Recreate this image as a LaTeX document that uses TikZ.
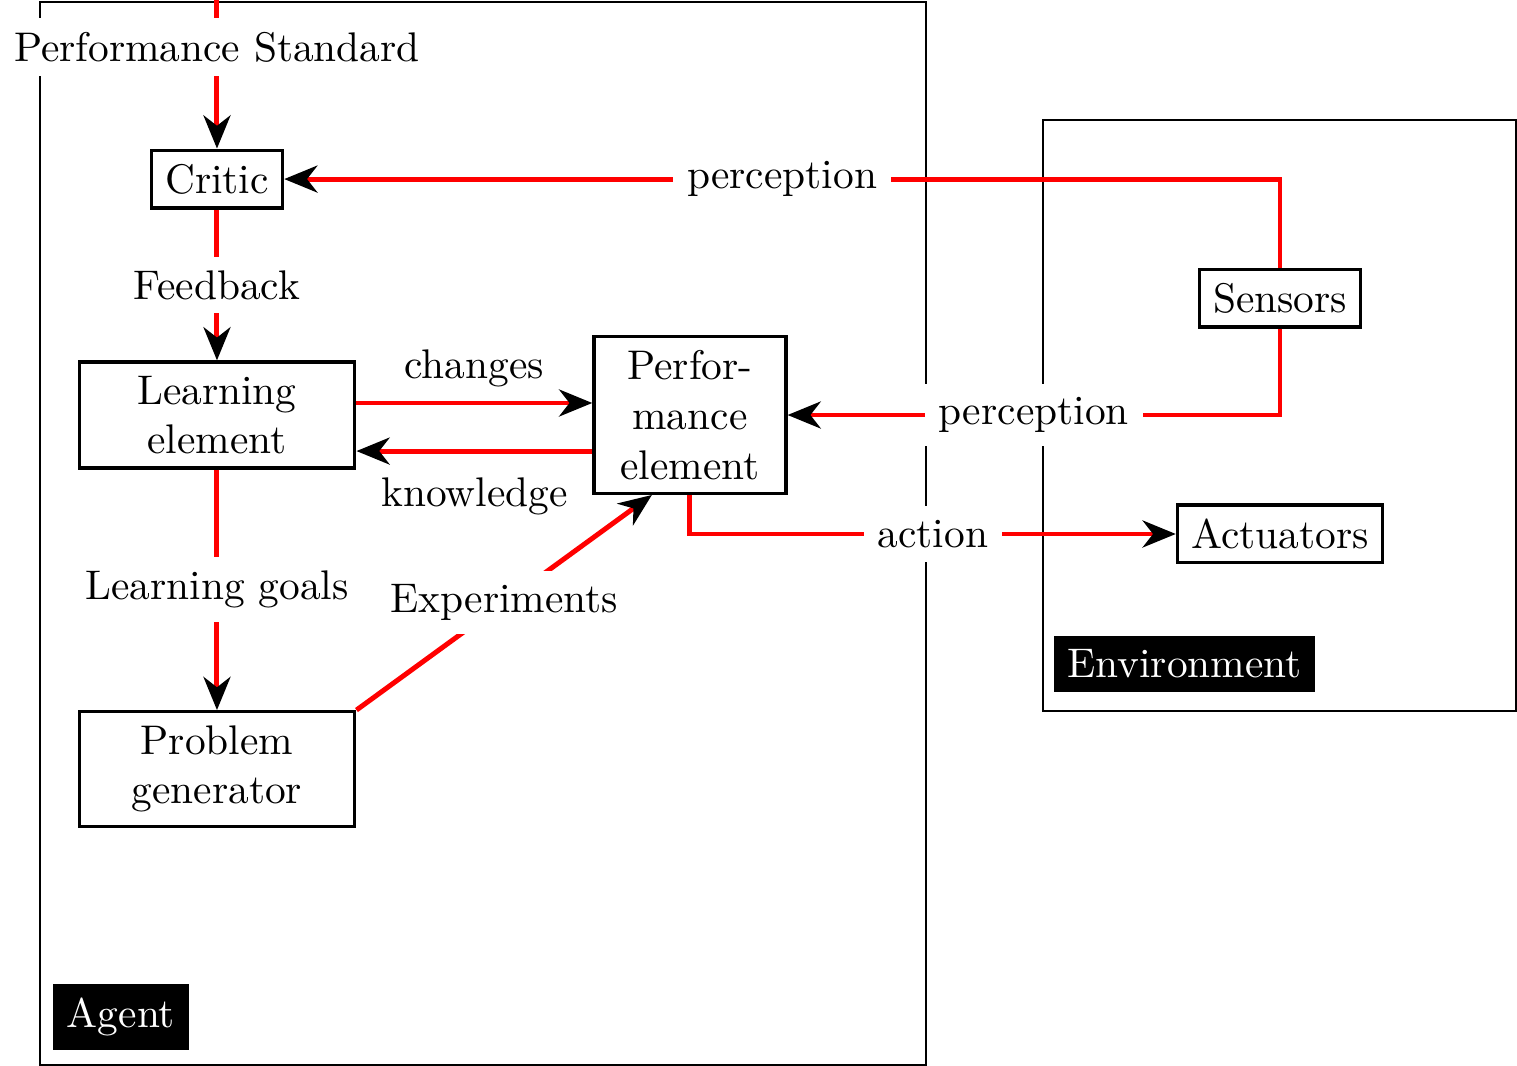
\documentclass[tikz,border=0pt]{standalone}
\usetikzlibrary{arrows.meta}

\tikzset{
  every picture/.style={line width=0.4pt},
  box/.style={draw, thick, align=center},
  flow/.style={draw=red, very thick, -{Stealth[black, length=8pt, width=6.5pt, inset=2.5pt]}},
  lbl/.style={fill=white},
  tag/.style={fill=black, text=white, anchor=south west},
  frame/.style={draw, minimum width=#1}
}

\begin{document}
\begin{tikzpicture}
    \useasboundingbox (0,0) rectangle (12.878,-9.049);
    \node[frame=7.521cm, minimum height=9.024cm] (agent) at (4.101,-4.529) {};
    \node[frame=4.015cm, minimum height=5.017cm] (env) at (10.862,-3.527) {};
    \node[tag] (agenttag) at ([shift={(0.11,0.13)}]agent.south west) {Agent};
    \node[tag] (envtag) at ([shift={(0.09,0.16)}]env.south west) {Environment};
    \node[box] (critic) at (1.842,-1.520) {Critic};
    \node[box, minimum width=2.34cm] (learn) at (1.842,-3.523) {Learning\\element};
    \node[box, minimum width=2.34cm] (prob) at (1.842,-6.528) {Problem\\generator};
    \node[box, minimum width=1.63cm] (perf) at (5.857,-3.523) {Perfor-\\mance\\element};
    \node[box] (sensors) at (10.866,-2.530) {Sensors};
    \node[box] (act) at (10.866,-4.533) {Actuators};
    \coordinate (stdtop) at (1.842,0.2);
    \draw[flow] (stdtop) -- node[lbl, pos=0.41] (std) {Performance Standard} (critic);
    \draw[flow] (critic) -- node[lbl] {Feedback} (learn);
    \draw[flow] (learn) -- node[lbl] {Learning goals} (prob);
    \draw[flow] ([yshift=0.102cm]learn.east) -- node[above] {changes} ([yshift=0.102cm]learn.east -| perf.west);
    \draw[flow] ([yshift=-0.306cm]perf.west) -- node[below=2.5pt] {knowledge} ([yshift=-0.306cm]perf.west -| learn.east);
    \draw[flow] (prob.north east) -- node[lbl] {Experiments} ([xshift=-0.323cm]perf.south);
    \draw[flow] (sensors) |- node[lbl, pos=0.75] {perception} (critic);
    \draw[flow] (sensors) |- node[lbl, pos=0.75] {perception} (perf);
    \draw[flow] (perf) |- node[lbl, pos=0.75] {action} (act);
\end{tikzpicture}
\end{document}
